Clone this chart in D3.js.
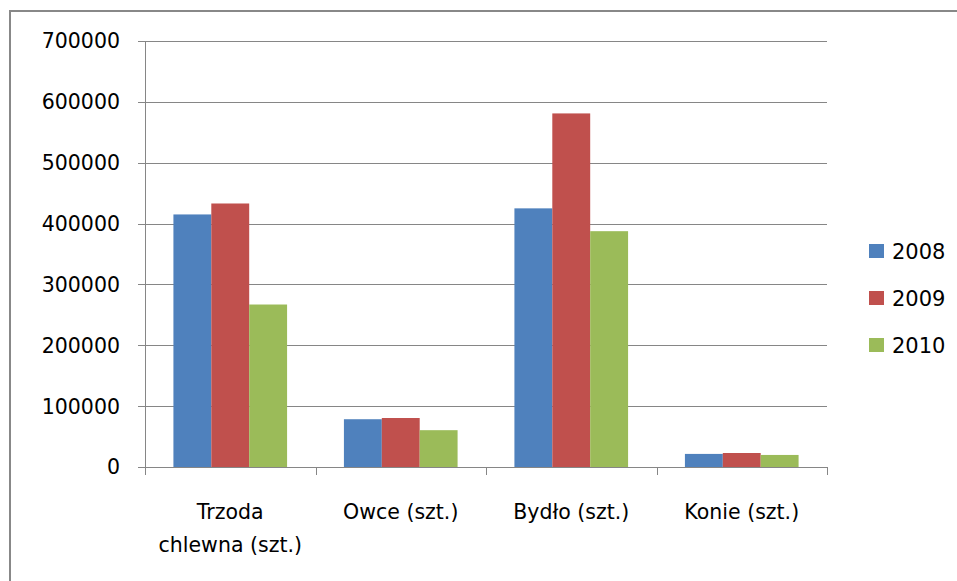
<!DOCTYPE html>
<html>
<head>
<meta charset="utf-8">
<script src="https://cdn.jsdelivr.net/npm/d3@7"></script>
<style>
  body { margin: 0; background: #fff; }
  text { font-family: "DejaVu Sans", sans-serif; fill: #000; }
</style>
</head>
<body>
<div id="chart"></div>
<script>
// dane z wykresu
const categories = ["Trzoda chlewna (szt.)", "Owce (szt.)", "Bydło (szt.)", "Konie (szt.)"];
const years = ["2008", "2009", "2010"];
const values2008 = [415000, 78500, 425000, 21500];
const values2009 = [433000, 80500, 581000, 23000];
const values2010 = [267000, 60500, 387500, 19800];
const yTicks = [0, 100000, 200000, 300000, 400000, 500000, 600000, 700000];
const colors = ["#4F81BD", "#C0504D", "#9BBB59"];

const series = [values2008, values2009, values2010];

const width = 957, height = 581;
const margin = {top: 41, right: 130, bottom: 114, left: 145};

const svg = d3.select("#chart")
  .append("svg")
  .attr("width", width)
  .attr("height", height);

// ramka
svg.append("path")
  .attr("d", `M10,${height} L10,11 L${width},11`)
  .attr("fill", "none")
  .attr("stroke", "#888")
  .attr("stroke-width", 2);

const x0 = d3.scaleBand()
  .domain(categories)
  .range([margin.left, width - margin.right])
  .padding(0);

const bw = x0.bandwidth();
const gap = bw * 0.75 / 4.5; // gap width 150%
const x1 = d3.scaleBand()
  .domain(years)
  .range([gap, bw - gap]);

const y = d3.scaleLinear()
  .domain([0, 700000])
  .range([height - margin.bottom, margin.top]);

// linie siatki
svg.append("g")
  .selectAll("line")
  .data(yTicks)
  .join("line")
    .attr("x1", margin.left - 7)
    .attr("x2", width - margin.right)
    .attr("y1", d => Math.round(y(d)) + 0.5)
    .attr("y2", d => Math.round(y(d)) + 0.5)
    .attr("stroke", "#868686")
    .attr("stroke-width", 1);

// słupki
categories.forEach((cat, i) => {
  svg.append("g")
    .selectAll("rect")
    .data(years)
    .join("rect")
      .attr("x", d => x0(cat) + x1(d))
      .attr("y", (d, j) => y(series[j][i]))
      .attr("width", x1.bandwidth())
      .attr("height", (d, j) => y(0) - y(series[j][i]))
      .attr("fill", (d, j) => colors[j]);
});

// oś Y
svg.append("line")
  .attr("x1", margin.left + 0.5).attr("x2", margin.left + 0.5)
  .attr("y1", y(700000)).attr("y2", y(0))
  .attr("stroke", "#868686");

svg.append("g")
  .selectAll("text")
  .data(yTicks)
  .join("text")
    .attr("x", 120)
    .attr("y", d => y(d))
    .attr("dy", "0.36em")
    .attr("text-anchor", "end")
    .attr("font-size", "20.5px")
    .text(d => d);

// oś X
svg.append("line")
  .attr("x1", margin.left).attr("x2", width - margin.right)
  .attr("y1", Math.round(y(0)) + 0.5).attr("y2", Math.round(y(0)) + 0.5)
  .attr("stroke", "#868686");

const xTickPos = categories.map(c => x0(c)).concat([width - margin.right]);
svg.append("g")
  .selectAll("line")
  .data(xTickPos)
  .join("line")
    .attr("x1", d => Math.round(d) + 0.5)
    .attr("x2", d => Math.round(d) + 0.5)
    .attr("y1", y(0))
    .attr("y2", y(0) + 8)
    .attr("stroke", "#868686");

const xLabels = svg.append("g")
  .selectAll("text")
  .data(categories)
  .join("text")
    .attr("x", d => x0(d) + bw / 2)
    .attr("y", 519)
    .attr("text-anchor", "middle")
    .attr("font-size", "20.5px")
    .text(d => d);

// zawijanie etykiet (jak w Excelu: max ok. 150 px na linię)
const maxLine = 152;
xLabels.each(function(d) {
  const t = d3.select(this);
  if (this.getComputedTextLength() <= maxLine) return;
  const words = d.split(" ");
  t.text(null);
  let line = [];
  let tspan = t.append("tspan").attr("x", x0(d) + bw / 2).attr("dy", 0);
  words.forEach(w => {
    line.push(w);
    tspan.text(line.join(" "));
    if (tspan.node().getComputedTextLength() > maxLine && line.length > 1) {
      line.pop();
      tspan.text(line.join(" "));
      line = [w];
      tspan = t.append("tspan").attr("x", x0(d) + bw / 2).attr("dy", 33).text(w);
    }
  });
});

// legenda
const legend = svg.append("g")
  .selectAll("g")
  .data(years)
  .join("g")
    .attr("transform", (d, i) => `translate(869, ${244 + i * 47})`);

legend.append("rect")
  .attr("width", 15)
  .attr("height", 14)
  .attr("fill", (d, i) => colors[i]);

legend.append("text")
  .attr("x", 23)
  .attr("y", 7)
  .attr("dy", "0.36em")
  .attr("font-size", "21px")
  .text(d => d);
</script>
</body>
</html>
